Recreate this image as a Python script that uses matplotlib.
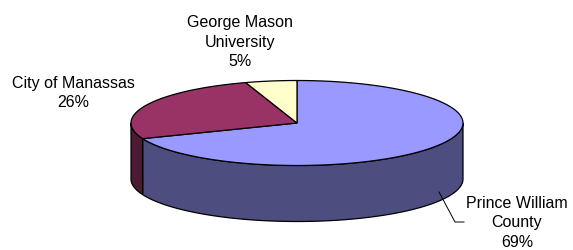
import numpy as np
import matplotlib
matplotlib.use("Agg")
import matplotlib.pyplot as plt
from matplotlib.patches import Polygon

# data
labels = ["Prince William\nCounty", "City of Manassas", "George Mason\nUniversity"]
values = [69, 26, 5]
colors = ["#9999FF", "#993366", "#FFFFCC"]
side_colors = ["#4D4D80", "#4D1A33", "#808066"]

plt.rcParams['font.family'] = ['Liberation Sans', 'DejaVu Sans']

fig = plt.figure(figsize=(5.73, 2.51), dpi=100)
ax = fig.add_axes([0, 0, 1, 1])
ax.set_xlim(0, 573)
ax.set_ylim(251, 0)
ax.axis('off')

cx, cy = 297, 124      # centre of top face
a, b = 166, 42.5       # ellipse semi-axes
depth = 56


def pt(theta, dy=0):
    # theta in degrees, clockwise from 12 o'clock
    t = np.radians(theta)
    return cx + a * np.sin(t), cy - b * np.cos(t) + dy


frac = np.array(values) / sum(values) * 360
starts = np.concatenate([[0], np.cumsum(frac)[:-1]])
ends = np.cumsum(frac)

# side walls (front half only: 90..270)
for s, e, sc in zip(starts, ends, side_colors):
    lo, hi = max(s, 90), min(e, 270)
    if hi <= lo:
        continue
    th = np.linspace(lo, hi, 80)
    top = [pt(t) for t in th]
    bot = [pt(t, depth) for t in th[::-1]]
    ax.add_patch(Polygon(top + bot, closed=True, facecolor=sc,
                         edgecolor='black', linewidth=0.9, zorder=1))

# top faces
for s, e, c in zip(starts, ends, colors):
    th = np.linspace(s, e, 120)
    verts = [(cx, cy)] + [pt(t) for t in th]
    ax.add_patch(Polygon(verts, closed=True, facecolor=c,
                         edgecolor='black', linewidth=0.9, zorder=2))

fs = 11.5
ls = 1.35
ax.text(517, 223, f"{labels[0]}\n{values[0]}%", ha='center', va='center',
        fontsize=fs, linespacing=ls)
ax.text(73, 93, f"{labels[1]}\n{values[1]}%", ha='center', va='center',
        fontsize=fs, linespacing=ls)
ax.text(240, 42, f"{labels[2]}\n{values[2]}%", ha='center', va='center',
        fontsize=fs, linespacing=ls)

# leader line for Prince William
ax.plot([439, 455, 464], [193, 223, 223], color='black', linewidth=0.7)

fig.savefig("out.png", dpi=100)
